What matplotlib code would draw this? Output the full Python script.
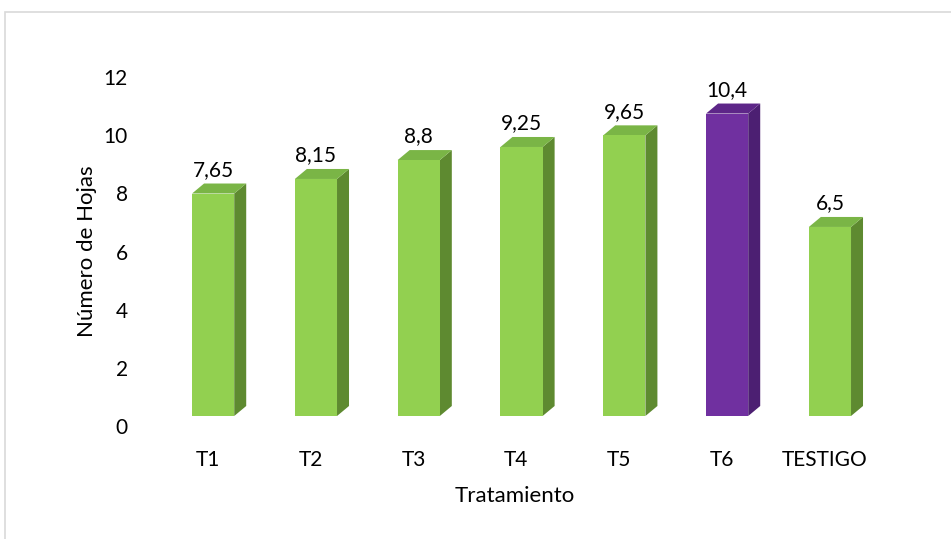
import matplotlib.pyplot as plt
from matplotlib.patches import Polygon, Rectangle

plt.rcParams['font.family'] = ['Lato', 'DejaVu Sans']

tratamientos = ['T1', 'T2', 'T3', 'T4', 'T5', 'T6', 'TESTIGO']
hojas = [7.65, 8.15, 8.8, 9.25, 9.65, 10.4, 6.5]
etiquetas = ['7,65', '8,15', '8,8', '9,25', '9,65', '10,4', '6,5']

verde = ('#92D050', '#7AB546', '#5E8A30')     # frente, techo, lateral
morado = ('#7030A0', '#5D2688', '#4C1F72')
colores = [verde] * 5 + [morado] + [verde]

fig = plt.figure(figsize=(9.51, 5.39), dpi=100)
W, H = 951, 539
ax = fig.add_axes([150 / W, 1 - 426 / H, 730 / W, 349 / H])

ancho = 0.41      # ancho del frente
desp = 0.05       # desplazamiento del frente respecto a la categoria
px = 102.8        # pixeles por categoria
py = 349 / 12     # pixeles por unidad
dx = 12 / px      # profundidad horizontal
dy = 10 / py      # profundidad vertical
base = dy

for i, (v, c) in enumerate(zip(hojas, colores)):
    x0 = i + desp - ancho / 2
    x1 = x0 + ancho
    y0 = base
    y1 = base + v
    # lateral
    ax.add_patch(Polygon([(x1, y0), (x1 + dx, y0 + dy), (x1 + dx, y1 + dy), (x1, y1)],
                         closed=True, facecolor=c[2], edgecolor='none'))
    # techo
    ax.add_patch(Polygon([(x0, y1), (x0 + dx, y1 + dy), (x1 + dx, y1 + dy), (x1, y1)],
                         closed=True, facecolor=c[1], edgecolor='none'))
    # frente
    ax.add_patch(Rectangle((x0, y0), ancho, v, facecolor=c[0], edgecolor='none'))
    ax.text(i + desp, y1 + dy + 0.12, etiquetas[i],
            ha='center', va='bottom', fontsize=15, color='#000000')

ax.set_xlim((150 - 208) / px, (880 - 208) / px)
ax.set_ylim(0, 12)
ax.set_yticks(range(0, 13, 2))
ax.set_xticks(range(len(tratamientos)))
ax.set_xticklabels(tratamientos)
ax.tick_params(axis='both', length=0, labelsize=15, colors='#000000')
ax.tick_params(axis='y', pad=16)
ax.tick_params(axis='x', pad=17)
for s in ax.spines.values():
    s.set_visible(False)

ax.set_xlabel('Tratamiento', fontsize=16, labelpad=12)
ax.set_ylabel('Número de Hojas', fontsize=16, labelpad=5)

# marco del grafico
fig.patches.append(Rectangle((4.5 / W, -0.1), 1.2, 1 - 12.5 / H + 0.1,
                             transform=fig.transFigure, fill=False,
                             edgecolor='#D9D9D9', linewidth=1.2))

fig.savefig('out.png', dpi=100)
